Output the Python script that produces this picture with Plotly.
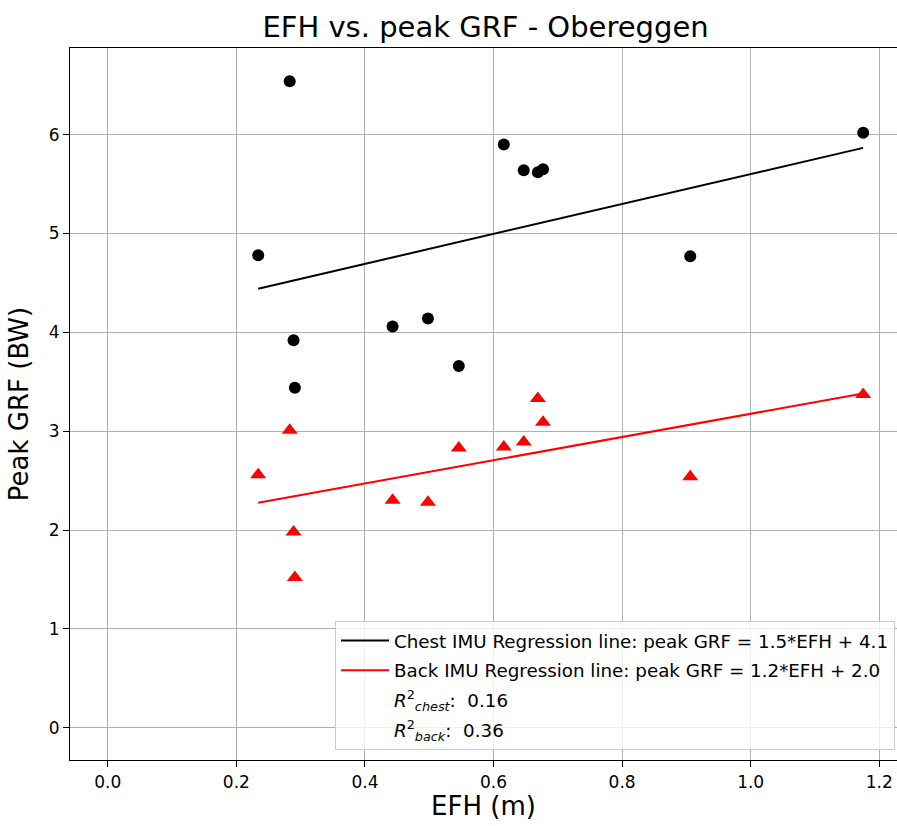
import plotly.graph_objects as go

# ---- data ----
efh = [0.283, 0.616, 0.647, 0.669, 0.677, 0.234, 0.443, 0.498, 0.289, 0.546, 0.291, 1.175, 0.906]
grf_chest = [6.54, 5.90, 5.64, 5.62, 5.65, 4.78, 4.06, 4.14, 3.92, 3.66, 3.44, 6.02, 4.77]
grf_back = [3.01, 2.84, 2.89, 3.33, 3.09, 2.56, 2.30, 2.28, 1.98, 2.83, 1.52, 3.37, 2.54]

chest_slope, chest_intercept = 1.515, 4.087
back_slope, back_intercept = 1.175, 2.001
r2_chest = 0.16
r2_back = 0.36

x_ticks = [0.0, 0.2, 0.4, 0.6, 0.8, 1.0, 1.2]
y_ticks = [0, 1, 2, 3, 4, 5, 6]

FONT = "DejaVu Sans"

x_line = [min(efh), max(efh)]
chest_line = [chest_slope * v + chest_intercept for v in x_line]
back_line = [back_slope * v + back_intercept for v in x_line]

fig = go.Figure()

fig.add_trace(go.Scatter(
    x=x_line, y=chest_line, mode="lines",
    line=dict(color="black", width=2),
    name=f"Chest IMU Regression line: peak GRF = {chest_slope:.1f}*EFH + {chest_intercept:.1f}",
    legendgroup="a",
))
fig.add_trace(go.Scatter(
    x=x_line, y=back_line, mode="lines",
    line=dict(color="red", width=2),
    name=f"Back IMU Regression line: peak GRF = {back_slope:.1f}*EFH + {back_intercept:.1f}",
    legendgroup="b",
))
fig.add_trace(go.Scatter(
    x=[None], y=[None], mode="lines",
    line=dict(color="rgba(0,0,0,0)", width=0),
    name=f"<i>R</i><sup>2</sup><sub><i>chest</i></sub>:  {r2_chest:.2f}",
    legendgroup="c",
))
fig.add_trace(go.Scatter(
    x=[None], y=[None], mode="lines",
    line=dict(color="rgba(0,0,0,0)", width=0),
    name=f"<i>R</i><sup>2</sup><sub><i>back</i></sub>:  {r2_back:.2f}",
    legendgroup="d",
))
fig.add_trace(go.Scatter(
    x=efh, y=grf_chest, mode="markers",
    marker=dict(symbol="circle", size=12, color="black"),
    showlegend=False, name="Chest IMU", legendgroup="e",
))
fig.add_trace(go.Scatter(
    x=efh, y=grf_back, mode="markers",
    marker=dict(symbol="triangle-up", size=14, color="red"),
    showlegend=False, name="Back IMU", legendgroup="f",
))

axis_common = dict(
    showgrid=True, gridcolor="#b0b0b0", gridwidth=1,
    zeroline=False,
    showline=True, linecolor="black", linewidth=1.2, mirror=True,
    ticks="outside", ticklen=6, tickwidth=1.2, tickcolor="black",
    tickfont=dict(family=FONT, size=17, color="black"),
)

fig.update_layout(
    width=897, height=826,
    margin=dict(l=70, r=0, t=48, b=66),
    paper_bgcolor="white", plot_bgcolor="white",
    font=dict(family=FONT, color="black"),
    title=dict(
        text="EFH vs. peak GRF - Obereggen",
        font=dict(family=FONT, size=29, color="black"),
        x=(485.5 - 70) / 827, xref="paper", xanchor="center",
        y=1 - 27 / 826, yref="container", yanchor="middle",
    ),
    xaxis=dict(
        range=[-0.05875, 1.2276],
        tickvals=x_ticks, ticktext=[f"{v:.1f}" for v in x_ticks],
        title=dict(text="EFH (m)", font=dict(family=FONT, size=26, color="black"), standoff=5),
        **axis_common,
    ),
    yaxis=dict(
        range=[-0.3275, 6.8775],
        tickvals=y_ticks, ticktext=[str(v) for v in y_ticks],
        title=dict(text="Peak GRF (BW)", font=dict(family=FONT, size=26, color="black"), standoff=12),
        **axis_common,
    ),
    legend=dict(
        x=(895 - 70) / 827, y=(760 - 750) / 712,
        xanchor="right", yanchor="bottom",
        bgcolor="rgba(255,255,255,0.8)",
        bordercolor="#cccccc", borderwidth=1,
        font=dict(family=FONT, size=18.3, color="black"),
        tracegroupgap=3,
        itemwidth=48,
        traceorder="grouped",
    ),
    showlegend=True,
)

fig.write_html("out.html")
